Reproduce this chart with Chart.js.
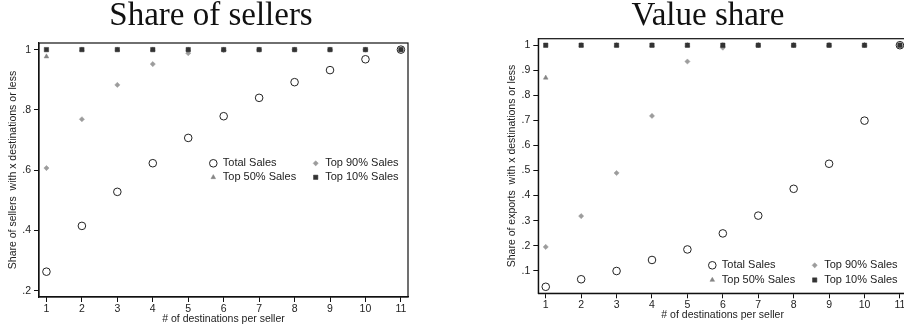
<!DOCTYPE html>
<html>
<head>
<meta charset="utf-8">
<script src="https://cdn.jsdelivr.net/npm/chart.js@4.4.1/dist/chart.umd.min.js"></script>
<style>
  html, body { margin: 0; padding: 0; background: #fff; overflow: hidden; }
  body { width: 904px; height: 329px; position: relative; }
  .panel { position: absolute; top: 0; }
  #sellersPanel { left: 0; }
  #valuePanel { left: 454px; }
</style>
</head>
<body>
<div class="panel" id="sellersPanel"><canvas id="sellersChart" width="450" height="329"></canvas></div>
<div class="panel" id="valuePanel"><canvas id="valueChart" width="460" height="329"></canvas></div>
<script>
// ==================== DATA =====================
const destinations = [1, 2, 3, 4, 5, 6, 7, 8, 9, 10, 11];
const xTickLabels = ["1", "2", "3", "4", "5", "6", "7", "8", "9", "10", "11"];
const seriesLabels = ["Total Sales", "Top 90% Sales", "Top 50% Sales", "Top 10% Sales"];

// share of sellers
const sellersTotal = [0.263, 0.415, 0.528, 0.623, 0.707, 0.779, 0.840, 0.892, 0.932, 0.968, 1.0];
const sellersTop90 = [0.607, 0.769, 0.883, 0.952, 0.988, 0.998, 1.0, 1.0, 1.0, 1.0, 1.0];
const sellersTop50 = [0.977, 1.0, 1.0, 1.0, 1.0, 1.0, 1.0, 1.0, 1.0, 1.0, 1.0];
const sellersTop10 = [1.0, 1.0, 1.0, 1.0, 1.0, 1.0, 1.0, 1.0, 1.0, 1.0, 1.0];
const sellersYTicks = [0.2, 0.4, 0.6, 0.8, 1];
const sellersYLabels = [".2", ".4", ".6", ".8", "1"];

// value share
const valueTotal = [0.036, 0.066, 0.099, 0.143, 0.185, 0.249, 0.320, 0.427, 0.527, 0.699, 1.0];
const valueTop90 = [0.195, 0.318, 0.490, 0.718, 0.935, 0.99, 1.0, 1.0, 1.0, 1.0, 1.0];
const valueTop50 = [0.87, 1.0, 1.0, 1.0, 1.0, 1.0, 1.0, 1.0, 1.0, 1.0, 1.0];
const valueTop10 = [1.0, 1.0, 1.0, 1.0, 1.0, 1.0, 1.0, 1.0, 1.0, 1.0, 1.0];
const valueYTicks = [0.1, 0.2, 0.3, 0.4, 0.5, 0.6, 0.7, 0.8, 0.9, 1];
const valueYLabels = [".1", ".2", ".3", ".4", ".5", ".6", ".7", ".8", ".9", "1"];

// ============== MARKER STYLES ===============
// order: lower number is drawn on top (circles, then squares over triangles/diamonds)
const markerStyles = [
  { order: 0, pointStyle: "circle", pointRadius: 3.8, borderColor: "#222", backgroundColor: "rgba(0,0,0,0)", borderWidth: 1 },
  { order: 3, pointStyle: "rectRot", pointRadius: 2.6, borderColor: "#9c9c9c", backgroundColor: "#9c9c9c", borderWidth: 0.5 },
  { order: 2, pointStyle: "triangle", pointRadius: 2.7, borderColor: "#858585", backgroundColor: "#858585", borderWidth: 0.5 },
  { order: 1, pointStyle: "rect", pointRadius: 3.1, borderColor: "#333", backgroundColor: "#333", borderWidth: 0.5 },
];

const sansFont = "'Liberation Sans', Arial, sans-serif";

function makeDatasets(valueLists) {
  return valueLists.map((values, i) => ({
    label: seriesLabels[i],
    data: destinations.map((x, j) => ({ x: x, y: values[j] })),
    showLine: false,
    pointHoverRadius: markerStyles[i].pointRadius,
    ...markerStyles[i],
  }));
}

// ============== PLUGINS ===============
const framePlugin = {
  id: "frame",
  afterDraw(chart) {
    const a = chart.chartArea;
    const ctx = chart.ctx;
    ctx.save();
    ctx.strokeStyle = "#111";
    ctx.lineWidth = 1.2;
    ctx.strokeRect(a.left, a.top, a.right - a.left, a.bottom - a.top);
    ctx.restore();
  },
};

const panelTitlePlugin = {
  id: "panelTitle",
  afterDraw(chart, args, opts) {
    const ctx = chart.ctx;
    ctx.save();
    ctx.font = "33px 'Liberation Serif', 'Times New Roman', serif";
    ctx.fillStyle = "#111";
    ctx.textAlign = "center";
    ctx.textBaseline = "alphabetic";
    ctx.fillText(opts.text, opts.x, opts.y);
    ctx.restore();
  },
};

const insideLegendPlugin = {
  id: "insideLegend",
  afterDraw(chart, args, opts) {
    const ctx = chart.ctx;
    ctx.save();
    ctx.font = "11px " + sansFont;
    ctx.textBaseline = "middle";
    ctx.textAlign = "left";
    chart.data.datasets.forEach((ds, i) => {
      const x = opts.cols[i % 2];
      const y = opts.rows[Math.floor(i / 2)];
      ctx.fillStyle = ds.backgroundColor;
      ctx.strokeStyle = ds.borderColor;
      ctx.lineWidth = ds.borderWidth;
      Chart.helpers.drawPoint(ctx, { pointStyle: ds.pointStyle, radius: ds.pointRadius, rotation: 0, borderWidth: ds.borderWidth }, x, y);
      ctx.fillStyle = "#222";
      ctx.fillText(ds.label, x + opts.textGap, y);
    });
    ctx.restore();
  },
};

// ============== CHART BUILDER ===============
function buildChart(canvasId, cfg) {
  const ctx = document.getElementById(canvasId).getContext("2d");
  return new Chart(ctx, {
    type: "scatter",
    data: { datasets: makeDatasets(cfg.series) },
    plugins: [framePlugin, panelTitlePlugin, insideLegendPlugin],
    options: {
      responsive: false,
      animation: false,
      events: [],
      layout: { padding: { top: cfg.top, right: cfg.right, left: 0, bottom: 0 } },
      plugins: {
        legend: { display: false },
        tooltip: { enabled: false },
        title: { display: false },
        panelTitle: cfg.title,
        insideLegend: cfg.legend,
      },
      scales: {
        x: {
          type: "linear",
          min: 0.79,
          max: 11.2,
          afterBuildTicks: (scale) => {
            scale.ticks = destinations.map((v) => ({ value: v }));
          },
          afterFit: (scale) => {
            scale.height = cfg.xHeight;
          },
          grid: { drawOnChartArea: false, drawTicks: true, tickLength: 5, color: "#111" },
          border: { display: true, color: "#111", width: 1.2 },
          ticks: {
            autoSkip: false,
            maxRotation: 0,
            padding: 1,
            color: "#222",
            font: { size: 10.5, family: sansFont },
            callback: (v) => xTickLabels[destinations.indexOf(v)],
          },
          title: {
            display: true,
            text: "# of destinations per seller",
            color: "#222",
            font: { size: 10.5, family: sansFont },
            padding: { top: 0, bottom: cfg.xTitlePad },
          },
        },
        y: {
          type: "linear",
          min: cfg.yMin,
          max: cfg.yMax,
          afterBuildTicks: (scale) => {
            scale.ticks = cfg.yTicks.map((v) => ({ value: v }));
          },
          afterFit: (scale) => {
            scale.width = cfg.yWidth;
          },
          grid: { drawOnChartArea: false, drawTicks: true, tickLength: 5, color: "#111" },
          border: { display: true, color: "#111", width: 1.2 },
          ticks: {
            padding: 3,
            color: "#222",
            font: { size: 10.5, family: sansFont },
            callback: (v) => cfg.yLabels[cfg.yTicks.indexOf(v)],
          },
          title: {
            display: true,
            text: cfg.yTitle,
            color: "#222",
            font: { size: 10.5, family: sansFont },
            padding: { top: cfg.yTitlePad, bottom: 0 },
          },
        },
      },
    },
  });
}

// =========== INIT ================
buildChart("sellersChart", {
  series: [sellersTotal, sellersTop90, sellersTop50, sellersTop10],
  yTicks: sellersYTicks,
  yLabels: sellersYLabels,
  yMin: 0.179,
  yMax: 1.022,
  top: 43,
  right: 42,
  yWidth: 39,
  xHeight: 32,
  xTitlePad: 3.4,
  yTitlePad: 6.7,
  yTitle: "Share of sellers  with x destinations or less",
  title: { text: "Share of sellers", x: 211, y: 25 },
  legend: { cols: [213.3, 315.7], rows: [163.3, 177.3], textGap: 9.5 },
});

buildChart("valueChart", {
  series: [valueTotal, valueTop90, valueTop50, valueTop10],
  yTicks: valueYTicks,
  yLabels: valueYLabels,
  yMin: 0.01,
  yMax: 1.026,
  top: 38.7,
  right: 7,
  yWidth: 84.3,
  xHeight: 35.7,
  xTitlePad: 7.7,
  yTitlePad: 52,
  yTitle: "Share of exports  with x destinations or less",
  title: { text: "Value share", x: 254, y: 25 },
  legend: { cols: [258.3, 360.7], rows: [265.3, 280], textGap: 9.5 },
});
</script>
</body>
</html>
